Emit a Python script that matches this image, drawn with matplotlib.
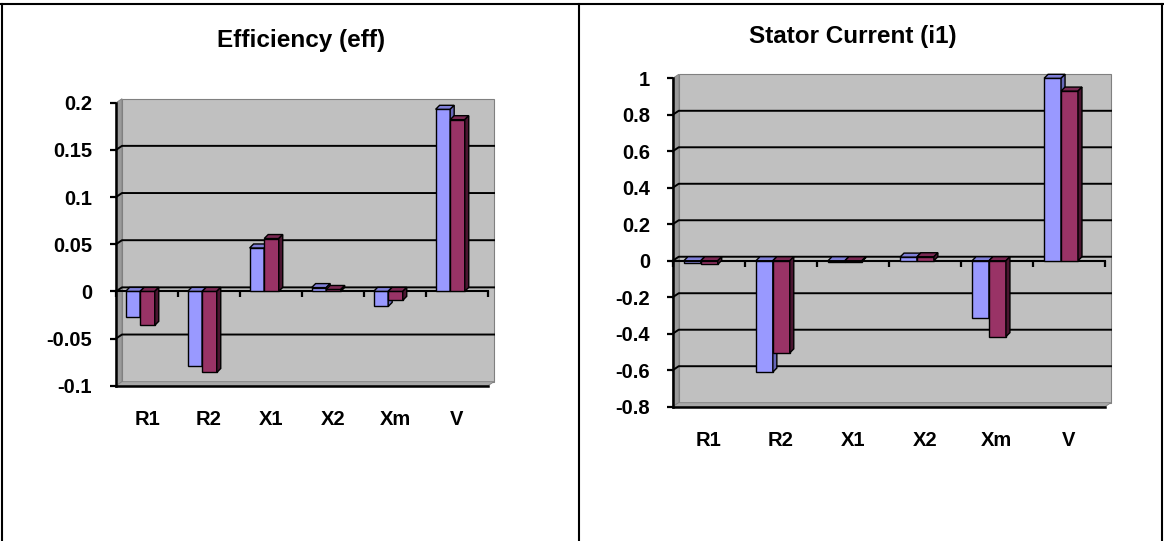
import matplotlib
matplotlib.use('Agg')
import matplotlib.pyplot as plt
from matplotlib.patches import Polygon, Rectangle
from matplotlib.lines import Line2D
import numpy as np

plt.rcParams['font.family'] = ['Liberation Sans', 'DejaVu Sans']
plt.rcParams['font.weight'] = 'bold'

# ---------------- data ----------------
categories = ['R1', 'R2', 'X1', 'X2', 'Xm', 'V']

eff_series1 = [-0.027, -0.079, 0.046, 0.004, -0.016, 0.193]
eff_series2 = [-0.036, -0.086, 0.056, 0.002, -0.0095, 0.182]

i1_series1 = [-0.015, -0.61, -0.005, 0.02, -0.316, 1.0]
i1_series2 = [-0.02, -0.505, -0.005, 0.022, -0.416, 0.93]

eff_ticks = [-0.1, -0.05, 0, 0.05, 0.1, 0.15, 0.2]
eff_tick_labels = ['-0.1', '-0.05', '0', '0.05', '0.1', '0.15', '0.2']

i1_ticks = [-0.8, -0.6, -0.4, -0.2, 0, 0.2, 0.4, 0.6, 0.8, 1]
i1_tick_labels = ['-0.8', '-0.6', '-0.4', '-0.2', '0', '0.2', '0.4', '0.6', '0.8', '1']

titles = ['Efficiency (eff)', 'Stator Current (i1)']

# ---------------- style ----------------
W, H = 1164, 541
fig = plt.figure(figsize=(W / 100, H / 100), dpi=100)

BLUE = dict(front='#9999FF', top='#7F7FD8', side='#6666B8')
RED = dict(front='#993366', top='#7A2852', side='#4A1530')
LABEL_SIZE = 14.5


def px_rect(x0, x1, ytop, ybot):
    return [x0 / W, 1 - ybot / H, (x1 - x0) / W, (ybot - ytop) / H]


def draw_chart(ax, s1, s2, ticks, tick_labels, ypad):
    n = len(categories)
    x0, x1 = -0.5, n - 0.5
    y0, y1 = ticks[0], ticks[-1]
    ax.set_xlim(x0, x1)
    ax.set_ylim(y0, y1)
    pos = ax.get_position()
    kx = (x1 - x0) / (pos.width * W)
    ky = (y1 - y0) / (pos.height * H)
    wdx, wdy = 6 * kx, 4 * ky     # wall depth
    bdx, bdy = 4 * kx, 4 * ky     # bar depth

    ax.patch.set_visible(False)
    # back wall
    ax.add_patch(Rectangle((x0 + wdx, y0 + wdy), x1 - x0, y1 - y0,
                           fc='#C0C0C0', ec='#808080', lw=0.8,
                           clip_on=False, zorder=0.2))
    # side wall
    ax.add_patch(Polygon([(x0, y0), (x0, y1), (x0 + wdx, y1 + wdy),
                          (x0 + wdx, y0 + wdy)], closed=True,
                         fc='#9A9A9A', ec='#808080', lw=0.6,
                         clip_on=False, zorder=0.3))
    # floor
    ax.add_patch(Polygon([(x0, y0), (x1, y0), (x1 + wdx, y0 + wdy),
                          (x0 + wdx, y0 + wdy)], closed=True,
                         fc='#A8A8A8', ec='#808080', lw=0.6,
                         clip_on=False, zorder=0.3))
    # gridlines on side + back wall
    for t in ticks[1:-1]:
        ax.plot([x0, x0 + wdx, x1 + wdx], [t, t + wdy, t + wdy],
                color='black', lw=1.4, clip_on=False, zorder=1)
    # category axis at zero
    ax.plot([x0, x1], [0, 0], color='black', lw=1.5, zorder=1.5,
            clip_on=False)
    ax.plot(np.arange(n + 1) - 0.5, np.zeros(n + 1), ls='none',
            marker=3, ms=4, mew=1.6, color='black', clip_on=False,
            zorder=1.5)

    xs = np.arange(n)
    w = 0.235
    off = -0.11
    for k, (vals, col) in enumerate([(s1, BLUE), (s2, RED)]):
        cx = xs + off + (k - 0.5) * w
        bars = ax.bar(cx, vals, w, color=col['front'], edgecolor='black',
                      lw=1.0, zorder=3 + k, clip_on=False)
        for p in bars.patches:
            xl = p.get_x()
            xr = xl + p.get_width()
            ya = p.get_y()
            yb = ya + p.get_height()
            yt, ybt = max(ya, yb), min(ya, yb)
            ax.add_patch(Polygon([(xl, yt), (xr, yt), (xr + bdx, yt + bdy),
                                  (xl + bdx, yt + bdy)], closed=True,
                                 fc=col['top'], ec='black', lw=1.0,
                                 clip_on=False, zorder=3 + k))
            ax.add_patch(Polygon([(xr, ybt), (xr, yt), (xr + bdx, yt + bdy),
                                  (xr + bdx, ybt + bdy)], closed=True,
                                 fc=col['side'], ec='black', lw=1.0,
                                 clip_on=False, zorder=3 + k))

    for s in ['top', 'right']:
        ax.spines[s].set_visible(False)
    ax.spines['left'].set_linewidth(1.8)
    ax.spines['bottom'].set_linewidth(1.8)
    ax.spines['left'].set_zorder(2)
    ax.spines['bottom'].set_zorder(2)

    ax.set_yticks(ticks)
    ax.set_yticklabels(tick_labels)
    ax.tick_params(axis='y', length=4.3, width=1.6, pad=ypad,
                   labelsize=LABEL_SIZE, direction='out')
    ax.set_xticks(xs)
    ax.set_xticklabels(categories)
    ax.tick_params(axis='x', length=0, pad=17.5, labelsize=LABEL_SIZE)
    for lab in ax.get_xticklabels() + ax.get_yticklabels():
        lab.set_fontweight('bold')


ax1 = fig.add_axes(px_rect(116, 488, 102.7, 385.7))
draw_chart(ax1, eff_series1, eff_series2, eff_ticks, eff_tick_labels, 13)

ax2 = fig.add_axes(px_rect(672.7, 1105, 78.3, 406.7))
draw_chart(ax2, i1_series1, i1_series2, i1_ticks, i1_tick_labels, 12)

fig.text(301 / W, 1 - 40.4 / H, titles[0], ha='center', va='center',
         fontsize=17.5, fontweight='bold')
fig.text(853 / W, 1 - 37 / H, titles[1], ha='center', va='center',
         fontsize=17.5, fontweight='bold')

# table borders
lw_b = 1.5
fig.add_artist(Line2D([0, 1], [1 - 3.5 / H, 1 - 3.5 / H], color='black',
                      lw=lw_b, transform=fig.transFigure))
for xp in [2, 579, 1162]:
    fig.add_artist(Line2D([xp / W, xp / W], [0, 1 - 3.5 / H], color='black',
                          lw=lw_b, transform=fig.transFigure))

fig.savefig('out.png', dpi=100)
